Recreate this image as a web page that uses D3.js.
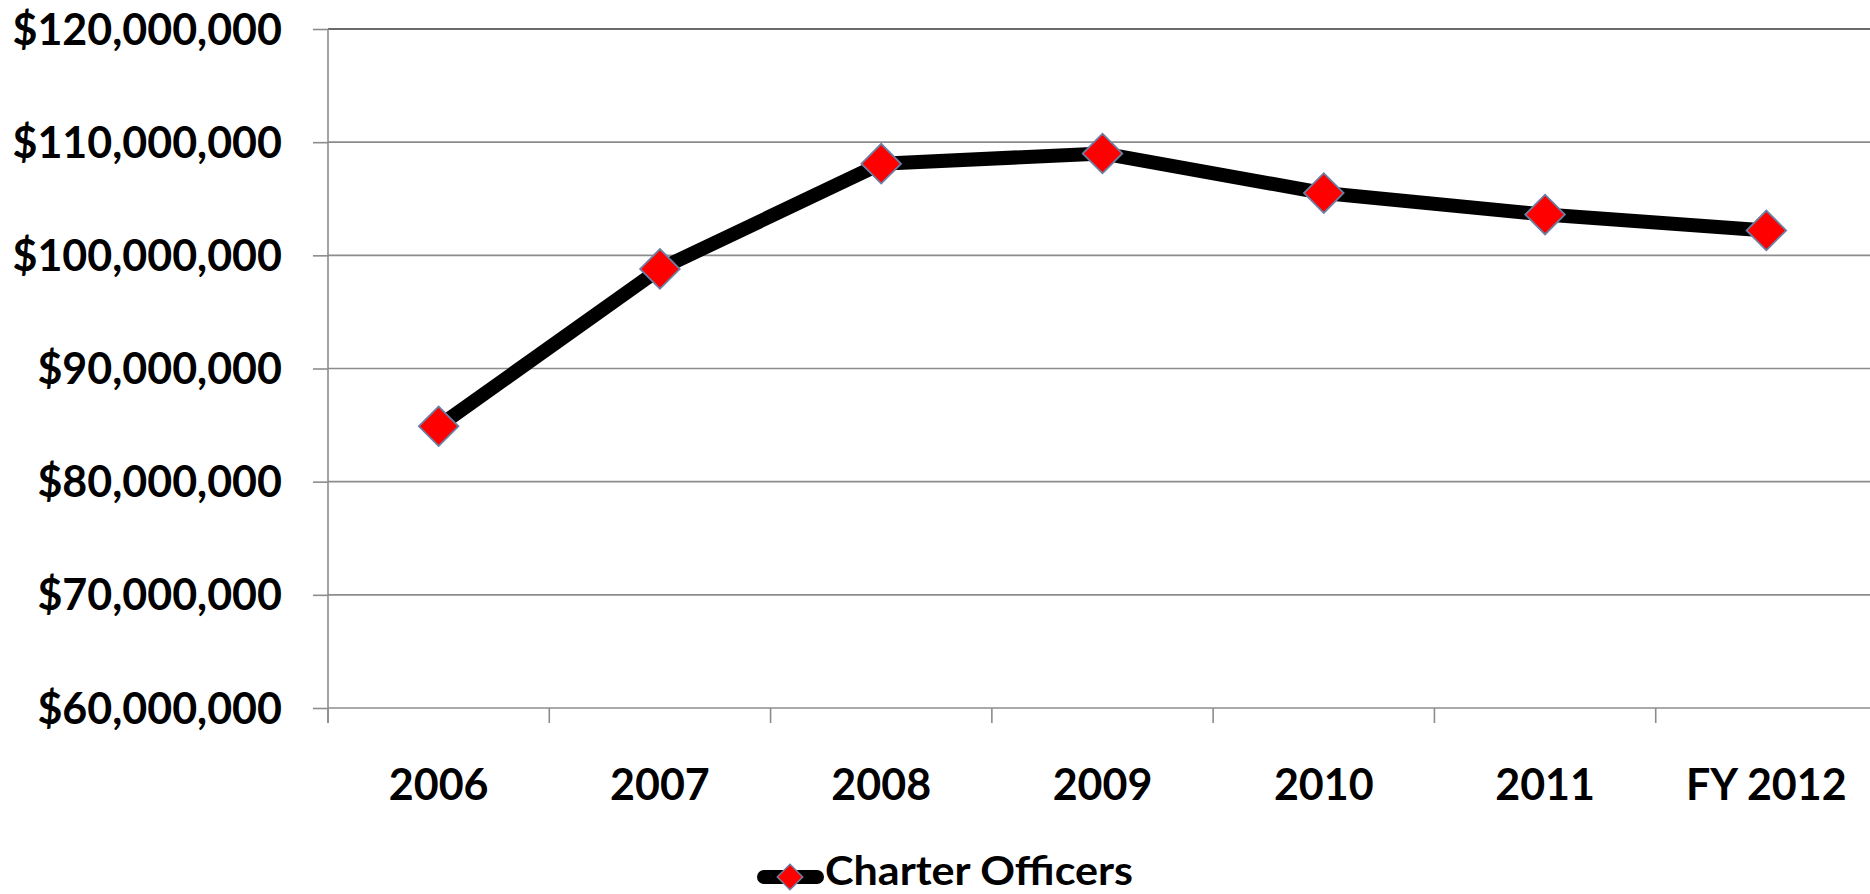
<!DOCTYPE html>
<html>
<head>
<meta charset="utf-8">
<script src="https://cdnjs.cloudflare.com/ajax/libs/d3/7.8.5/d3.min.js"></script>
<style>
  html, body { margin: 0; padding: 0; background: #fff; overflow: hidden; }
  svg { display: block; }
  text { font-family: Lato, "Open Sans", sans-serif; font-weight: 700; fill: #000; }
</style>
</head>
<body>
<svg id="chart"></svg>
<script>
// chart data
var categories = ["2006", "2007", "2008", "2009", "2010", "2011", "FY 2012"];
var officers = [84900000, 98800000, 108100000, 109000000, 105500000, 103600000, 102200000];
var yTicks = [60000000, 70000000, 80000000, 90000000, 100000000, 110000000, 120000000];
var seriesName = "Charter Officers";

var W = 1870, H = 894;
var margin = {top: 29, left: 328, right: -7, bottom: 186};

var svg = d3.select("#chart").attr("width", W).attr("height", H);

var x = d3.scaleBand()
          .domain(categories)
          .range([margin.left, W - margin.right]);

var y = d3.scaleLinear()
          .domain([60000000, 120000000])
          .range([H - margin.bottom, margin.top]);

var fmt = function(d) { return "$" + d3.format(",")(d); };

// gridlines
svg.append("g")
   .selectAll("line")
   .data(yTicks)
   .join("line")
   .attr("x1", margin.left)
   .attr("x2", W)
   .attr("y1", d => y(d))
   .attr("y2", d => y(d))
   .attr("stroke", d => d == 120000000 ? "#3a3a3a" : "#8c8c8c")
   .attr("stroke-width", 1.6);

// y axis
var yAxis = svg.append("g")
   .attr("transform", "translate(" + margin.left + ",0)")
   .call(d3.axisLeft(y).tickValues(yTicks).tickSize(15).tickPadding(31).tickFormat(fmt));
yAxis.select(".domain").remove();
yAxis.append("line")
   .attr("x1", 0).attr("x2", 0)
   .attr("y1", margin.top).attr("y2", H - margin.bottom + 15)
   .attr("stroke", "#8c8c8c").attr("stroke-width", 1.6);
yAxis.selectAll(".tick line").attr("stroke", "#8c8c8c").attr("stroke-width", 1.6);
yAxis.selectAll(".tick text")
   .attr("font-size", 43)
   .attr("dy", "0.35em")
   .style("font-family", "Lato, sans-serif")
   .style("font-weight", 700);

// x axis
var xAxis = svg.append("g")
   .attr("transform", "translate(0," + (H - margin.bottom) + ")")
   .call(d3.axisBottom(x).tickSize(0).tickPadding(0));
xAxis.select(".domain").remove();
xAxis.selectAll(".tick text")
   .attr("font-size", 43)
   .attr("y", 77)
   .attr("dy", "0.35em")
   .style("font-family", "Lato, sans-serif")
   .style("font-weight", 700);

// x tick marks at band edges
var edges = categories.map(c => x(c));
svg.append("g")
   .selectAll("line")
   .data(edges)
   .join("line")
   .attr("x1", d => d).attr("x2", d => d)
   .attr("y1", H - margin.bottom)
   .attr("y2", H - margin.bottom + 15)
   .attr("stroke", "#8c8c8c").attr("stroke-width", 1.6);

// series line
var line = d3.line()
             .x((d, i) => x(categories[i]) + x.bandwidth() / 2)
             .y(d => y(d));

svg.append("path")
   .datum(officers)
   .attr("d", line)
   .attr("fill", "none")
   .attr("stroke", "#000")
   .attr("stroke-width", 14)
   .attr("stroke-linejoin", "round");

// diamond markers
var diamond = d3.symbol().type(d3.symbolSquare).size(28 * 28);
svg.append("g")
   .selectAll("path")
   .data(officers)
   .join("path")
   .attr("d", diamond)
   .attr("transform", (d, i) => "translate(" + (x(categories[i]) + x.bandwidth() / 2) + "," + y(d) + ") rotate(45)")
   .attr("fill", "#ff0000")
   .attr("stroke", "#6b7fa3")
   .attr("stroke-width", 1.8);

// legend
var legend = svg.append("g").attr("transform", "translate(758,877)");
legend.append("line")
   .attr("x1", 6).attr("x2", 59)
   .attr("y1", 0).attr("y2", 0)
   .attr("stroke", "#000")
   .attr("stroke-width", 14)
   .attr("stroke-linecap", "round");
legend.append("path")
   .attr("d", d3.symbol().type(d3.symbolSquare).size(18 * 18))
   .attr("transform", "translate(32,0) rotate(45)")
   .attr("fill", "#ff0000")
   .attr("stroke", "#6b7fa3")
   .attr("stroke-width", 1.5);
legend.append("text")
   .attr("x", 67)
   .attr("y", 8)
   .attr("font-size", 40)
   .attr("textLength", 308)
   .attr("lengthAdjust", "spacingAndGlyphs")
   .text(seriesName);
</script>
</body>
</html>
